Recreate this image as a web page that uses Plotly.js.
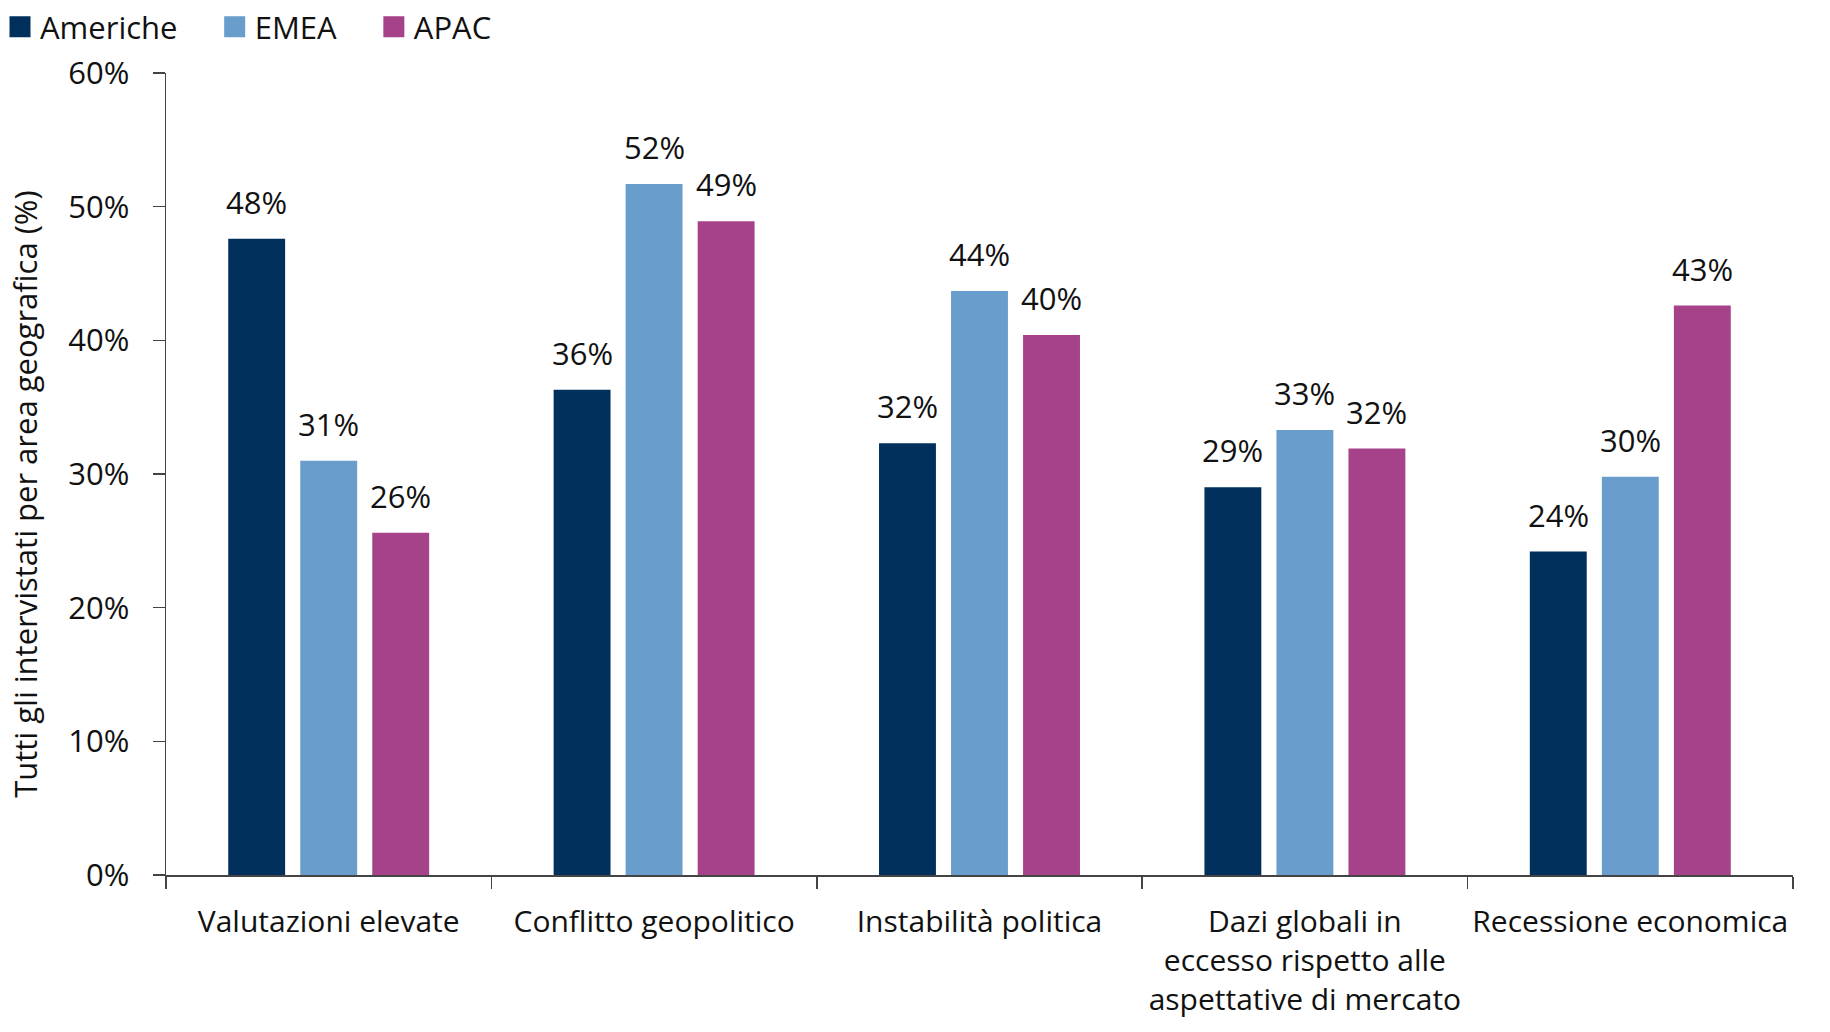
<!DOCTYPE html>
<html>
<head>
<meta charset="utf-8">
<script src="https://cdn.plot.ly/plotly-3.0.1.min.js"></script>
<style>
  html, body { margin: 0; padding: 0; background: #fff; }
  #chart { width: 1830px; height: 1032px; }
</style>
</head>
<body>
<div id="chart"></div>
<script>
const categories = [
  "Valutazioni elevate",
  "Conflitto geopolitico",
  "Instabilità politica",
  "Dazi globali in<br>eccesso rispetto alle<br>aspettative di mercato",
  "Recessione economica",
];
const seriesNames = ["Americhe", "EMEA", "APAC"];
const americhe = [47.6, 36.3, 32.3, 29.0, 24.2];
const emea = [31.0, 51.7, 43.7, 33.3, 29.8];
const apac = [25.6, 48.9, 40.4, 31.9, 42.6];
const yTicks = [0, 10, 20, 30, 40, 50, 60];

const colors = ["#00305b", "#699dcb", "#a54289"];
const font = "Open Sans, sans-serif";
const fontSize = 31;
const bargap = 0.336;
const nb = "\u00a0";

const series = [americhe, emea, apac];

const bars = series.map((vals, i) => ({
  type: "bar",
  name: seriesNames[i],
  x: categories,
  y: vals,
  marker: { color: colors[i] },
  showlegend: false,
  hoverinfo: "skip",
}));

// legend proxies so the swatches come out as large squares;
// trailing spaces widen the gaps between entries like the original
const legendPad = [4, 4, 0];
const legendItems = seriesNames.map((name, i) => ({
  type: "scatter",
  mode: "markers",
  name: name + nb.repeat(legendPad[i]),
  x: [null],
  y: [null],
  marker: { symbol: "square", size: 16, color: colors[i], line: { color: colors[i], width: 5 } },
}));

// value labels sit a bit higher above the bars than plotly's "outside" text,
// so place them as annotations on the category axis (index + group offset)
const slot = (1 - bargap) / series.length;
const labels = [];
series.forEach((vals, i) => {
  vals.forEach((v, k) => {
    labels.push({
      x: k + (i - (series.length - 1) / 2) * slot,
      y: v,
      xref: "x",
      yref: "y",
      text: Math.round(v) + "%",
      showarrow: false,
      yanchor: "bottom",
      yshift: 14,
      font: { family: font, size: fontSize, color: "#111" },
    });
  });
});

const layout = {
  width: 1830,
  height: 1032,
  margin: { l: 166, r: 37, t: 73, b: 157 },
  barmode: "group",
  bargap: bargap,
  bargroupgap: 0.21,
  paper_bgcolor: "#fff",
  plot_bgcolor: "#fff",
  font: { family: font, size: fontSize, color: "#111" },
  showlegend: true,
  legend: {
    orientation: "h",
    xref: "container",
    yref: "container",
    x: 0,
    y: 1,
    xanchor: "left",
    yanchor: "top",
    font: { family: font, size: fontSize, color: "#111" },
    itemclick: false,
  },
  annotations: labels,
  xaxis: {
    type: "category",
    showline: true,
    linecolor: "#444",
    linewidth: 1.5,
    ticks: "outside",
    tickson: "boundaries",
    ticklen: 12,
    tickcolor: "#444",
    tickwidth: 1.5,
    tickangle: 0,
    showgrid: false,
    automargin: false,
    ticklabelstandoff: 19,
    tickfont: { family: font, size: 30, color: "#111" },
  },
  yaxis: {
    range: [0, 60],
    tickvals: yTicks,
    ticktext: yTicks.map(v => v + "%"),
    showline: true,
    linecolor: "#444",
    linewidth: 1.5,
    ticks: "outside",
    ticklen: 12,
    tickcolor: "#444",
    tickwidth: 1.5,
    showgrid: false,
    zeroline: false,
    automargin: false,
    ticklabelstandoff: 17,
    tickfont: { family: font, size: fontSize, color: "#111" },
    title: {
      // padding + zero-width char keeps the title a little lower, as in the original
      text: "Tutti gli intervistati per area geografica (%)" + nb.repeat(5) + "\u200b",
      font: { family: font, size: fontSize, color: "#111" },
      standoff: 21,
    },
  },
};

Plotly.newPlot("chart", [...bars, ...legendItems], layout, { staticPlot: true });
</script>
</body>
</html>
